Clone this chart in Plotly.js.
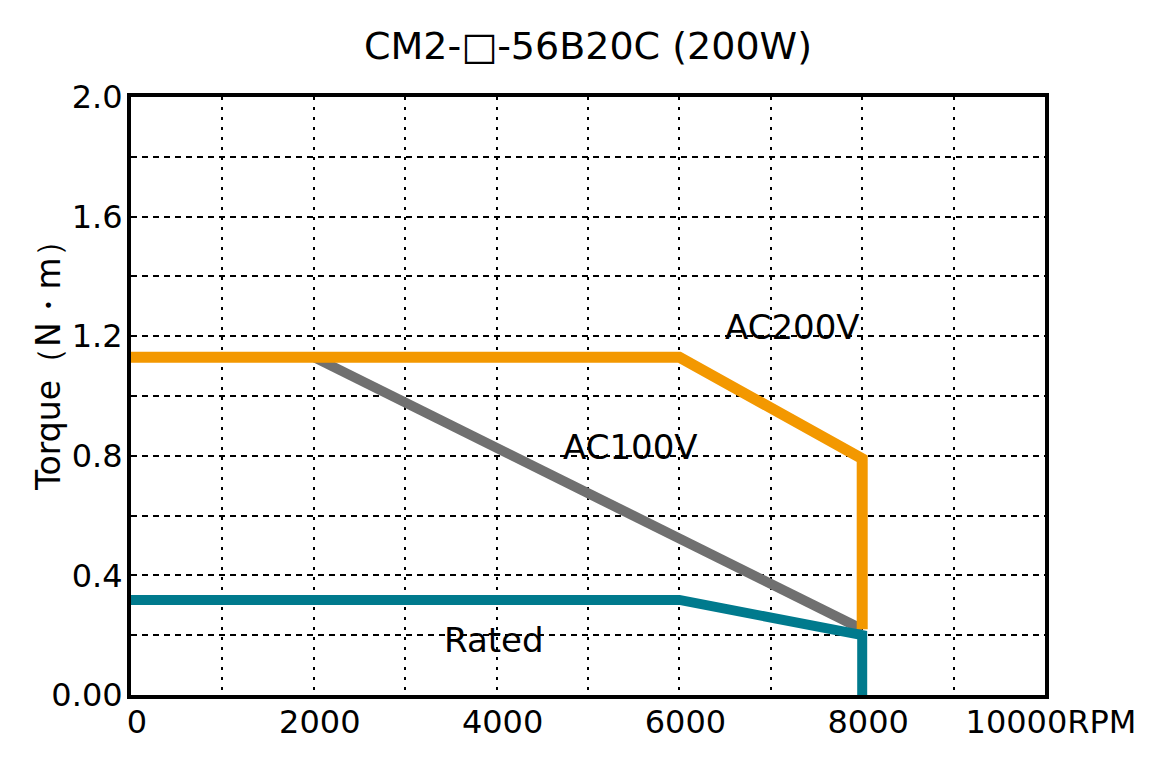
<!DOCTYPE html>
<html>
<head>
<meta charset="utf-8">
<script src="https://cdn.plot.ly/plotly-3.0.1.min.js"></script>
<style>html,body{margin:0;padding:0;background:#fff;}#chart{width:1156px;height:767px;}</style>
</head>
<body>
<div id="chart"></div>
<script>
// Data (speed in RPM, torque in N·m)
const ac200Speed = [0, 6000, 8000, 8000];
const ac200Torque = [1.13, 1.13, 0.79, 0.22];
const ac100Speed = [2000, 8000];
const ac100Torque = [1.13, 0.22];
const ratedSpeed = [0, 6000, 8000, 8000];
const ratedTorque = [0.318, 0.318, 0.2, 0];

const xTickVals = [0, 1000, 2000, 3000, 4000, 5000, 6000, 7000, 8000, 9000, 10000];
const xTickText = ['0', '', '2000', '', '4000', '', '6000', '', '8000', '', '10000RPM'];
const yTickVals = [0, 0.2, 0.4, 0.6, 0.8, 1.0, 1.2, 1.4, 1.6, 1.8, 2.0];
const yTickText = ['0.00', '', '0.4', '', '0.8', '', '1.2', '', '1.6', '', '2.0'];

const labels = [
  {text: 'AC200V', x: 7240, y: 1.23},
  {text: 'AC100V', x: 5470, y: 0.83},
  {text: 'Rated', x: 3970, y: 0.185}
];

const FONT = 'DejaVu Sans, Verdana, sans-serif';

const traces = [
  {x: ac100Speed, y: ac100Torque, mode: 'lines', line: {color: '#707070', width: 10}, hoverinfo: 'skip'},
  {x: ac200Speed, y: ac200Torque, mode: 'lines', line: {color: '#F39800', width: 11}, hoverinfo: 'skip'},
  {x: ratedSpeed, y: ratedTorque, mode: 'lines', line: {color: '#007A8D', width: 10}, hoverinfo: 'skip'}
];

const annotations = labels.map(l => ({
  text: l.text, x: l.x, y: l.y, xref: 'x', yref: 'y', showarrow: false,
  font: {size: 34, family: FONT, color: '#000'}, xanchor: 'center', yanchor: 'middle'
}));
annotations.push({
  text: 'Torque（N・m）', xref: 'paper', yref: 'paper', x: -0.091, y: 0.565,
  textangle: -90, showarrow: false, xanchor: 'center', yanchor: 'middle',
  font: {size: 33, family: FONT, color: '#000'}
});

const layout = {
  width: 1156, height: 767,
  margin: {l: 131, r: 111, t: 97, b: 72},
  paper_bgcolor: '#fff', plot_bgcolor: '#fff',
  showlegend: false,
  font: {family: FONT, color: '#000'},
  title: {text: 'CM2-□-56B20C (200W)', font: {size: 38, family: FONT, color: '#000'}, x: 0.5, xanchor: 'center', y: 0.94, yanchor: 'middle', xref: 'paper'},
  xaxis: {
    range: [0, 10000], tickvals: xTickVals, ticktext: xTickText,
    showgrid: true, gridcolor: '#000', gridwidth: 2, griddash: '3px,7px',
    showline: true, linecolor: '#000', linewidth: 4, mirror: true,
    ticks: '', zeroline: false, tickfont: {size: 32}, ticklabelshift: 6, ticklabelstandoff: -4
  },
  yaxis: {
    range: [0, 2.0], tickvals: yTickVals, ticktext: yTickText,
    showgrid: true, gridcolor: '#000', gridwidth: 2, griddash: '6px,5px',
    showline: true, linecolor: '#000', linewidth: 4, mirror: true,
    ticks: '', zeroline: false, tickfont: {size: 32}, ticklabelstandoff: -2
  },
  annotations: annotations
};

Plotly.newPlot('chart', traces, layout, {displayModeBar: false, staticPlot: true});
</script>
</body>
</html>
